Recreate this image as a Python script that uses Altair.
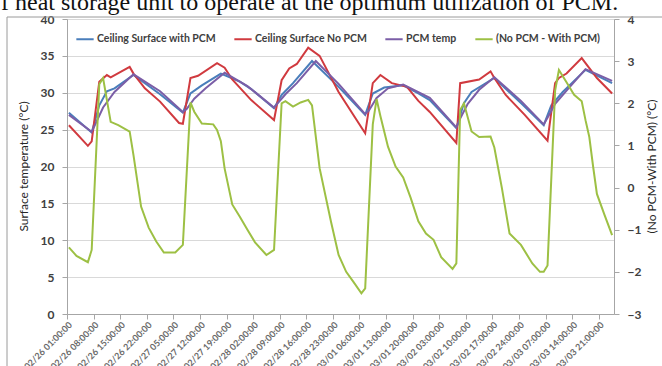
import altair as alt
import pandas as pd

caption = "f heat storage unit to operate at the optimum utilization of PCM."

series_names = ["Ceiling Surface with PCM", "Ceiling Surface No PCM", "PCM temp", "(No PCM - With PCM)"]
series_colors = ["#4A7EBB", "#D03A3F", "#7B5EA7", "#9DC044"]

tick_hours = [0, 7, 14, 21, 28, 35, 42, 49, 56, 63, 70, 77, 84, 91, 98, 105, 112, 119, 126, 133, 140]
tick_labels = ["02/26 01:00:00", "02/26 08:00:00", "02/26 15:00:00", "02/26 22:00:00",
               "02/27 05:00:00", "02/27 12:00:00", "02/27 19:00:00", "02/28 02:00:00",
               "02/28 09:00:00", "02/28 16:00:00", "02/28 23:00:00", "03/01 06:00:00",
               "03/01 13:00:00", "03/01 20:00:00", "03/02 03:00:00", "03/02 10:00:00",
               "03/02 17:00:00", "03/02 24:00:00", "03/03 07:00:00", "03/03 14:00:00",
               "03/03 21:00:00"]
left_ticks = [0, 5, 10, 15, 20, 25, 30, 35, 40]
right_ticks = [-3, -2, -1, 0, 1, 2, 3, 4]

# Ceiling Surface with PCM (hour index, °C)
blue_h = [0, 6, 8, 10, 12, 17, 24, 30, 32, 35, 40, 45, 48, 54, 56, 59, 64, 71, 78, 80,
          83, 88, 92, 95, 102, 104, 106, 112, 119, 125, 127, 130, 136, 143]
blue_v = [27.3, 24.6, 28.3, 30.2, 30.6, 32.4, 29.8, 27.3, 29.9, 31.0, 32.6, 31.5, 30.5, 27.9, 29.7, 31.3, 34.3, 30.8, 27.0, 29.9,
          30.7, 31.0, 29.9, 29.0, 25.2, 28.6, 30.1, 32.0, 28.6, 25.6, 28.3, 30.1, 33.1, 31.3]

# Ceiling Surface No PCM
red_h = [0, 5, 6, 8, 10, 11, 16, 17, 20, 24, 29, 30, 32, 34, 39, 41, 43, 48, 54, 56,
         58, 60, 63, 66, 71, 78, 80, 82, 85, 89, 92, 95, 102, 103, 108, 111, 112, 115, 120, 126,
         128, 129, 131, 135, 139, 143]
red_v = [25.6, 22.8, 23.4, 31.5, 32.4, 32.1, 33.5, 32.6, 30.6, 28.8, 25.9, 25.8, 32.0, 32.3, 34.0, 33.4, 31.8, 29.0, 26.3, 31.7,
         33.3, 33.9, 36.1, 35.0, 30.1, 24.5, 31.3, 32.4, 31.3, 30.8, 28.9, 27.4, 23.2, 31.3, 31.8, 32.9, 32.0, 29.7, 27.0, 23.5,
         31.3, 32.0, 32.6, 34.7, 32.0, 29.9]

# PCM temp
purple_h = [0, 6, 7, 9, 12, 17, 24, 30, 31, 33, 36, 41, 47, 54, 55, 57, 60, 65, 71, 78,
            79, 81, 84, 88, 95, 102, 103, 105, 108, 112, 119, 125, 126, 128, 131, 136, 143]
purple_v = [27.0, 24.7, 25.8, 28.0, 30.1, 32.5, 30.2, 27.4, 27.8, 29.2, 30.6, 32.7, 30.9, 28.0, 28.6, 29.8, 31.3, 34.3, 31.2, 27.1,
            27.6, 29.3, 30.6, 31.1, 29.3, 25.3, 26.5, 28.5, 30.4, 32.1, 28.9, 25.7, 26.6, 28.5, 30.3, 33.2, 31.6]

# (No PCM - With PCM), right axis
green_h = [0, 2, 5, 6, 8, 9, 11, 13, 16, 17, 19, 21, 23, 25, 28, 30, 32, 33, 35, 38,
           39, 40, 41, 43, 45, 47, 49, 52, 54, 56, 57, 59, 61, 63, 64, 66, 69, 71, 73, 75,
           77, 78, 80, 81, 82, 84, 86, 88, 90, 92, 94, 96, 98, 101, 102, 103, 104, 106, 108, 111,
           112, 114, 116, 119, 122, 124, 125, 126, 128, 129, 131, 133, 135, 136, 137, 138, 139, 141, 143]
green_v = [-1.42, -1.62, -1.77, -1.48, 2.45, 2.6, 1.56, 1.48, 1.33, 0.77, -0.45, -0.95, -1.28, -1.54, -1.54, -1.36, 2.02, 1.8, 1.52, 1.50,
           1.37, 1.1, 0.45, -0.4, -0.69, -1.0, -1.3, -1.6, -1.48, 2.0, 2.05, 1.92, 2.02, 2.08, 1.95, 0.46, -0.81, -1.6, -2.0, -2.25,
           -2.51, -2.39, 1.5, 2.1, 1.7, 0.97, 0.5, 0.24, -0.25, -0.8, -1.09, -1.24, -1.65, -1.93, -1.8, 1.84, 2.0, 1.33, 1.2, 1.21,
           0.95, -0.02, -1.09, -1.36, -1.8, -2.0, -2.0, -1.85, 2.3, 2.79, 2.5, 2.2, 2.05, 1.6, 1.2, 0.5, -0.15, -0.65, -1.13]

temp_df = pd.concat([
    pd.DataFrame({"h": blue_h, "v": blue_v, "s": series_names[0]}),
    pd.DataFrame({"h": red_h, "v": red_v, "s": series_names[1]}),
    pd.DataFrame({"h": purple_h, "v": purple_v, "s": series_names[2]}),
], ignore_index=True)
diff_df = pd.DataFrame({"h": green_h, "v": green_v, "s": series_names[3]})

FONT = "Lato"
label_expr = "[" + ",".join("'%s'" % t for t in tick_labels) + "][round(datum.value/7)]"

x_enc = alt.X(
    "xpos:Q",
    scale=alt.Scale(domain=[0, 144], nice=False, zero=False),
    axis=alt.Axis(values=tick_hours, labelExpr=label_expr, labelAngle=-45, labelAlign="right",
                  labelBaseline="middle", labelFont=FONT, labelFontWeight="bold", labelFontSize=9,
                  labelColor="#6a6a6a", labelPadding=4, labelOffset=3, tickSize=5, tickColor="#a6a6a6",
                  domainColor="#a6a6a6", grid=False, title=None, labelOverlap=False, labelBound=False),
)

color_enc = alt.Color(
    "s:N",
    scale=alt.Scale(domain=series_names, range=series_colors),
    legend=alt.Legend(orient="none", legendX=8, legendY=10, direction="horizontal", title=None,
                      symbolType="stroke", symbolSize=300, symbolStrokeWidth=2, labelFont=FONT,
                      labelFontWeight="bold", labelFontSize=10.5, labelColor="#404040",
                      columnPadding=14, labelOffset=2, labelLimit=300),
)

left = alt.Chart(temp_df).transform_calculate(xpos="datum.h + 0.5").mark_line(strokeWidth=2).encode(
    x=x_enc,
    y=alt.Y("v:Q", scale=alt.Scale(domain=[0, 40], nice=False),
            axis=alt.Axis(values=left_ticks, labelFont=FONT, labelFontWeight="bold", labelFontSize=12,
                          labelColor="#404040", labelPadding=8, tickSize=5, tickColor="#a6a6a6",
                          domainColor="#a6a6a6", gridColor="#d9d9d9",
                          title="Surface temperature (°C)", titleFont=FONT, titleFontWeight="normal",
                          titleFontSize=12, titleColor="#262626", titleX=-44, titleY=147,
                          titleAngle=-90, titleAlign="center", titleBaseline="middle")),
    color=color_enc,
)

right = alt.Chart(diff_df).transform_calculate(xpos="datum.h + 0.5").mark_line(strokeWidth=2).encode(
    x=x_enc,
    y=alt.Y("v:Q", scale=alt.Scale(domain=[-3, 4], nice=False, zero=False),
            axis=alt.Axis(orient="right", values=right_ticks, labelFont=FONT, labelFontWeight="bold",
                          labelFontSize=12, labelColor="#404040", labelPadding=8, labelAlign="left",
                          tickSize=5, tickColor="#a6a6a6", domainColor="#a6a6a6", grid=False,
                          title="(No PCM-With PCM) (°C)", titleFont=FONT, titleFontWeight="normal",
                          titleFontSize=12, titleColor="#262626", titleX=37, titleY=147,
                          titleAngle=-90, titleAlign="center", titleBaseline="middle")),
    color=color_enc,
)

cap = alt.Chart(pd.DataFrame({"t": [caption]})).mark_text(
    font="Liberation Serif", fontSize=24, align="left", baseline="alphabetic", color="#111111"
).encode(x=alt.value(-66), y=alt.value(-9), text="t:N")

border_df = pd.DataFrame({"k": [1]})
border_left = alt.Chart(border_df).mark_rule(color="#9a9a9a", strokeWidth=1).encode(
    x=alt.value(-60), y=alt.value(-2), y2=alt.value(400))
border_top = alt.Chart(border_df).mark_rule(color="#9a9a9a", strokeWidth=1).encode(
    x=alt.value(-60), x2=alt.value(700), y=alt.value(-2))

chart = alt.layer(border_left, border_top, left, right, cap).resolve_scale(y="independent").properties(
    width=547, height=295,
    autosize=alt.AutoSizeParams(type="none"),
    padding={"left": 67, "top": 19, "right": 48, "bottom": 52},
).configure_view(stroke=None).configure(background="white")

chart.save("out.html", embed_options={"renderer": "svg", "actions": False})
